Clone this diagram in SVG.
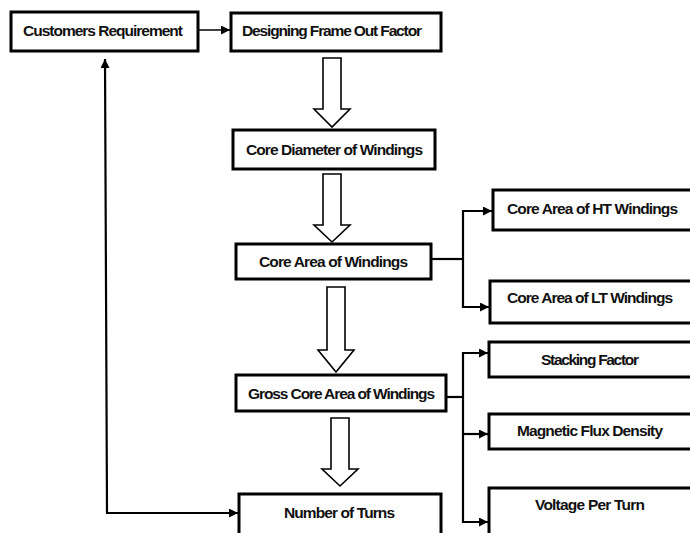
<svg xmlns="http://www.w3.org/2000/svg" width="690" height="533" viewBox="0 0 690 533">
<defs>
<style>
.box{fill:#fff;stroke:#000;stroke-width:3}
.t{font-family:"Liberation Sans",Arial,sans-serif;font-weight:bold;font-size:15.5px;fill:#111;lengthAdjust:spacingAndGlyphs}
.c{fill:none;stroke:#000;stroke-width:2.2}
.h{fill:#fff;stroke:#000;stroke-width:1.6}
</style>
<marker id="ah" viewBox="0 0 10 10" refX="10" refY="5" markerWidth="9" markerHeight="9" markerUnits="userSpaceOnUse" orient="auto-start-reverse">
<path d="M0,0 L10,5 L0,10 Z" fill="#000"/>
</marker>
</defs>
<rect width="690" height="533" fill="#fff"/>

<g id="connectors">
<line class="c" x1="198" y1="30" x2="230" y2="30" marker-end="url(#ah)" style="stroke-width:1.5"/>
<polyline class="c" points="431,259 463,259"/>
<polyline class="c" points="492,211 463,211 463,307 489,307" marker-start="url(#ah)" marker-end="url(#ah)"/>
<polyline class="c" points="446,397 463,397"/>
<polyline class="c" points="488,353 463,353 463,522 488,522" marker-start="url(#ah)" marker-end="url(#ah)"/>
<line class="c" x1="463" y1="434" x2="488" y2="434" marker-end="url(#ah)"/>
<polyline class="c" points="105,59 107,513 238,513" marker-start="url(#ah)" marker-end="url(#ah)"/>
<polygon class="h" points="323,58 341,58 341,109 350,109 332,127 314,109 323,109"/>
<polygon class="h" points="323,174 341,174 341,225 350,225 332,242 314,225 323,225"/>
<polygon class="h" points="327,287 345,287 345,350 354,350 336,372 318,350 327,350"/>
<polygon class="h" points="331,418 349,418 349,469 358,469 340,486 322,469 331,469"/>
</g>

<g id="n1"><rect class="box" x="11" y="12" width="187" height="39"/>
<text class="t" x="23" y="36" textLength="160">Customers Requirement</text></g>
<g id="n2"><rect class="box" x="231" y="13" width="210" height="38"/>
<text class="t" x="242" y="36" textLength="180">Designing Frame Out Factor</text></g>
<g id="n3"><rect class="box" x="233" y="130" width="202" height="39"/>
<text class="t" x="246" y="155" textLength="177">Core Diameter of Windings</text></g>
<g id="n4"><rect class="box" x="236" y="244" width="195" height="35"/>
<text class="t" x="259" y="267" textLength="149">Core Area of Windings</text></g>
<g id="n5"><rect class="box" x="493" y="190" width="210" height="40"/>
<text class="t" x="507" y="214" textLength="171">Core Area of HT Windings</text></g>
<g id="n6"><rect class="box" x="490" y="281" width="213" height="42"/>
<text class="t" x="507" y="303" textLength="166">Core Area of LT Windings</text></g>
<g id="n7"><rect class="box" x="236" y="375" width="210" height="36"/>
<text class="t" x="248" y="399" textLength="187">Gross Core Area of Windings</text></g>
<g id="n8"><rect class="box" x="489" y="342" width="214" height="35"/>
<text class="t" x="541" y="365" textLength="98">Stacking Factor</text></g>
<g id="n9"><rect class="box" x="489" y="414" width="214" height="35"/>
<text class="t" x="517" y="436" textLength="146">Magnetic Flux Density</text></g>
<g id="n10"><rect class="box" x="489" y="488" width="214" height="55"/>
<text class="t" x="535" y="510" textLength="110">Voltage Per Turn</text></g>
<g id="n11"><rect class="box" x="239" y="494" width="202" height="49"/>
<text class="t" x="284" y="518" textLength="111">Number of Turns</text></g>
</svg>
